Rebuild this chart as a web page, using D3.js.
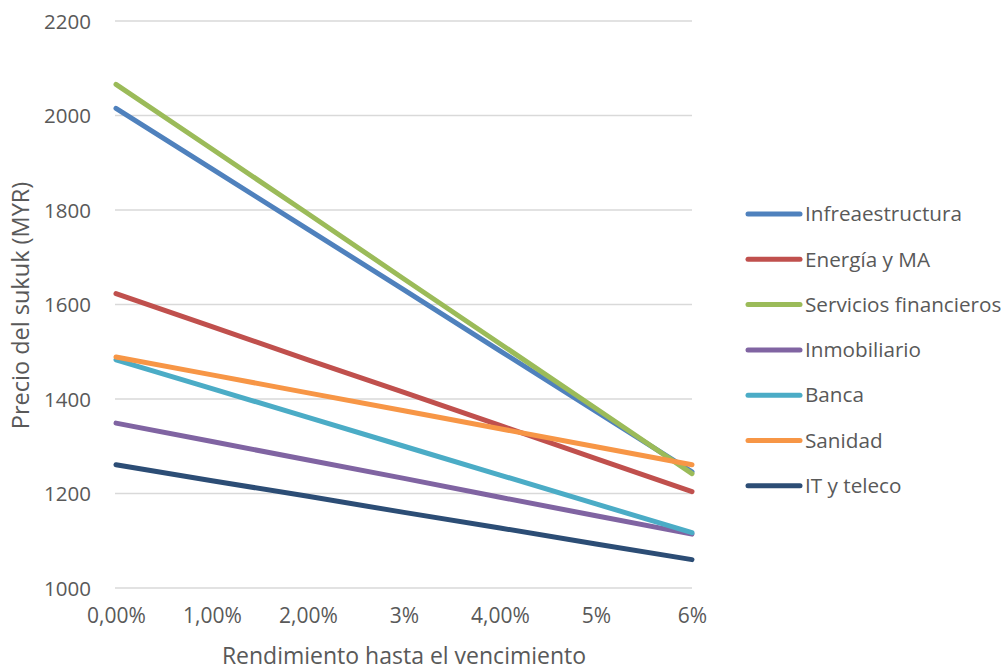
<!DOCTYPE html>
<html>
<head>
<meta charset="utf-8">
<script src="https://cdn.jsdelivr.net/npm/d3@7/dist/d3.min.js"></script>
<style>
  html, body { margin: 0; padding: 0; background: #fff; }
  svg text { font-family: "Open Sans", "Noto Sans", sans-serif; fill: #595959; }
</style>
</head>
<body>
<svg id="chart" width="1007" height="671"></svg>
<script>
// Yield-to-maturity categories (x axis)
const categories = ["0,00%", "1,00%", "2,00%", "3%", "4,00%", "5%", "6%"];

// Sukuk price (MYR) per sector at each yield
const infraestructura = [2015, 1887, 1759, 1631, 1502, 1374, 1246];
const energia         = [1623, 1553, 1483, 1414, 1344, 1274, 1204];
const servicios       = [2066, 1929, 1792, 1654, 1517, 1380, 1242];
const inmobiliario    = [1349, 1310, 1271, 1232, 1192, 1153, 1114];
const banca           = [1483, 1422, 1361, 1300, 1239, 1178, 1117];
const sanidad         = [1489, 1451, 1413, 1375, 1337, 1299, 1261];
const itTeleco        = [1261, 1227, 1194, 1160, 1127, 1093, 1060];

const seriesNames = ["Infreaestructura", "Energía y MA", "Servicios financieros",
                     "Inmobiliario", "Banca", "Sanidad", "IT y teleco"];
const seriesValues = [infraestructura, energia, servicios, inmobiliario, banca, sanidad, itTeleco];
const seriesColors = ["#4F81BD", "#C0504D", "#9BBB59", "#8064A2", "#4BACC6", "#F79646", "#2C4D75"];

const yTicks = [1000, 1200, 1400, 1600, 1800, 2000, 2200];

const svg = d3.select("#chart");
const plot = { left: 116, right: 692, top: 21, bottom: 588 };

const x = d3.scalePoint().domain(categories).range([plot.left, plot.right]);
const y = d3.scaleLinear().domain([1000, 2200]).range([plot.bottom, plot.top]);

// Horizontal gridlines
svg.append("g")
  .selectAll("line")
  .data(yTicks)
  .join("line")
  .attr("x1", plot.left - 1)
  .attr("x2", plot.right)
  .attr("y1", d => y(d))
  .attr("y2", d => y(d))
  .attr("stroke", "#d9d9d9")
  .attr("stroke-width", 1.5);

// Y axis tick labels
const yAxis = svg.append("g")
  .attr("transform", `translate(${plot.left - 25},0)`)
  .call(d3.axisLeft(y).tickValues(yTicks).tickSize(0).tickPadding(0).tickFormat(d3.format("d")));
yAxis.select(".domain").remove();
yAxis.selectAll("text")
  .attr("font-size", 20.5)
  .attr("dy", "0.35em");

// X axis tick labels
const xAxis = svg.append("g")
  .attr("transform", `translate(0,${plot.bottom + 20})`)
  .call(d3.axisBottom(x).tickSize(0).tickPadding(0));
xAxis.select(".domain").remove();
xAxis.selectAll("text")
  .attr("font-size", 21)
  .attr("dy", "0.71em");

// Axis titles
svg.append("text")
  .attr("x", 404)
  .attr("y", 664)
  .attr("text-anchor", "middle")
  .attr("font-size", 23)
  .text("Rendimiento hasta el vencimiento");

svg.append("text")
  .attr("transform", `translate(29,${(plot.top + plot.bottom) / 2 + 1}) rotate(-90)`)
  .attr("text-anchor", "middle")
  .attr("font-size", 23.5)
  .text("Precio del sukuk (MYR)");

// Series lines
const line = d3.line()
  .x((d, i) => x(categories[i]))
  .y(d => y(d));

svg.append("g")
  .selectAll("path")
  .data(seriesValues)
  .join("path")
  .attr("d", d => line(d))
  .attr("fill", "none")
  .attr("stroke", (d, i) => seriesColors[i])
  .attr("stroke-width", 5)
  .attr("stroke-linecap", "round")
  .attr("stroke-linejoin", "round");

// Legend
const legend = svg.append("g")
  .selectAll("g")
  .data(seriesNames)
  .join("g")
  .attr("transform", (d, i) => `translate(748,${214 + i * 45.3})`);

legend.append("line")
  .attr("x1", 0).attr("x2", 52)
  .attr("y1", 0).attr("y2", 0)
  .attr("stroke", (d, i) => seriesColors[i])
  .attr("stroke-width", 5)
  .attr("stroke-linecap", "round");

legend.append("text")
  .attr("x", 57)
  .attr("y", 0)
  .attr("dy", "0.35em")
  .attr("font-size", 20.7)
  .text(d => d);
</script>
</body>
</html>
